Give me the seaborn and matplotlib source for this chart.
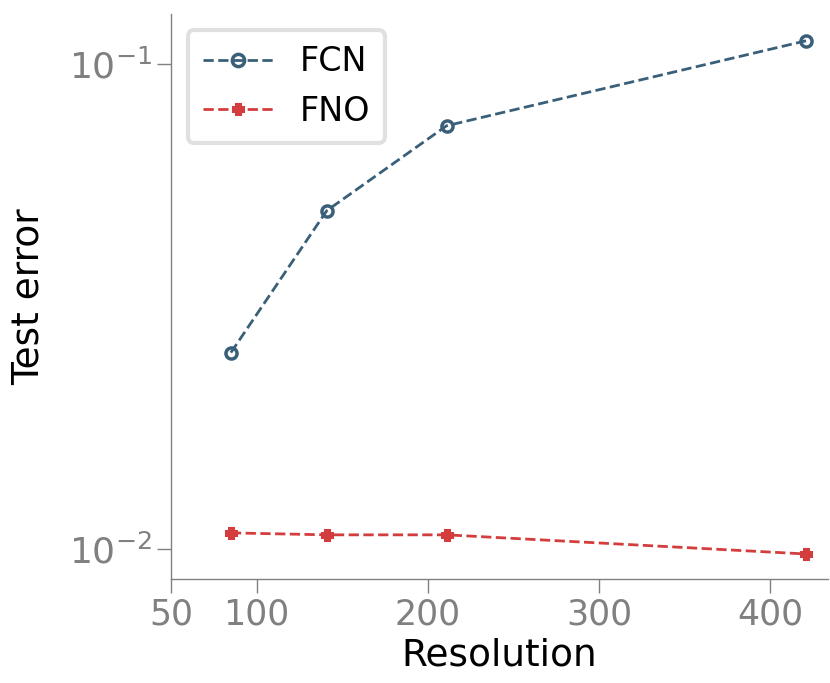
import pandas as pd
import seaborn as sns
import matplotlib.pyplot as plt
import numpy as np

sns.set_theme(style="ticks")
plt.rcParams['font.family'] = ['DejaVu Sans']
plt.rcParams['text.color'] = 'black'

resolution = [85, 141, 211, 421]
fcn_err = [0.0254, 0.0498, 0.0745, 0.1115]
fno_err = [0.0108, 0.0107, 0.0107, 0.00977]

df = pd.DataFrame({
    "Resolution": resolution * 2,
    "Test error": fcn_err + fno_err,
    "model": ["FCN"] * 4 + ["FNO"] * 4,
})

palette = {"FCN": "#3a6079", "FNO": "#d43d3d"}
markers = {"FCN": "o", "FNO": "P"}

fig = plt.figure(figsize=(8.3, 6.83), dpi=100)
ax = fig.add_axes([0.206, 0.152, 0.792, 0.828])

for model in ["FCN", "FNO"]:
    dfm = df[df["model"] == model]
    c = palette[model]
    sns.lineplot(data=dfm, x="Resolution", y="Test error", ax=ax, color=c,
                 linestyle="--", linewidth=2, marker=markers[model],
                 markersize=8 if model == "FCN" else 6.5,
                 markerfacecolor="none" if model == "FCN" else c,
                 markeredgecolor=c, markeredgewidth=2.5 if model == "FCN" else 2.2,
                 label=model)

ax.set_yscale("log")
ax.set_xlim(50, 434)
ax.set_ylim(0.00867, 0.1268)
ax.set_xticks([50, 100, 200, 300, 400])
ax.set_xticklabels(["50", "100", "200", "300", "400"])
ax.yaxis.set_minor_locator(plt.NullLocator())

for s in ["top", "right"]:
    ax.spines[s].set_visible(False)
for s in ["left", "bottom"]:
    ax.spines[s].set_color("gray")
    ax.spines[s].set_linewidth(1)
ax.tick_params(axis="both", colors="gray", labelsize=25, length=10, width=1)
ax.tick_params(axis="y", labelsize=26)
ax.set_xlabel("Resolution", fontsize=27, color="black", labelpad=4)
ax.set_ylabel("Test error", fontsize=27, color="black", labelpad=16)

leg = ax.legend(loc="upper left", fontsize=24, frameon=True, fancybox=True,
                borderpad=0.45, handlelength=2.1, bbox_to_anchor=(0.0, 1.0),
                markerscale=1.1)
leg.get_frame().set_edgecolor("#d9d9d9")
leg.get_frame().set_linewidth(3)
for t in leg.get_texts():
    t.set_color("black")

plt.savefig("out.png", dpi=100)
